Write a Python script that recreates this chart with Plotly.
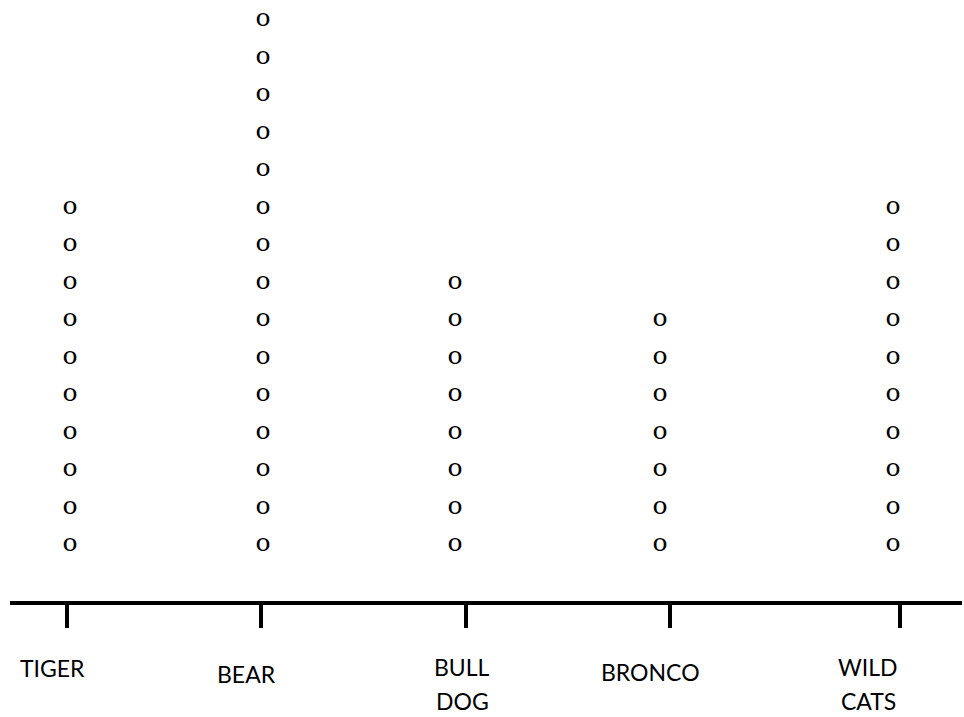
import plotly.graph_objects as go

# ---- data ----
categories = ["TIGER", "BEAR", "BULL DOG", "BRONCO", "WILD CATS"]
counts = [10, 15, 8, 7, 10]
mark_symbol = "o"

# ---- layout constants (hand-drawn spacing of the original) ----
tick_pos = [0.0, 0.97, 1.995, 3.015, 4.165]      # axis tick positions
col_pos = [0.015, 0.98, 1.94, 2.965, 4.13]        # columns of marks
label_xshift = [-15, -15, -4, -20, -32]           # px offsets of labels
label_yshift = [-67, -73, -66, -71, -66]          # px offsets of first line
line_gap = 34

fig = go.Figure()

xs, ys = [], []
for pos, n in zip(col_pos, counts):
    for k in range(1, n + 1):
        xs.append(pos)
        ys.append(k)

fig.add_trace(go.Scatter(
    x=xs, y=ys, mode="text", text=[mark_symbol] * len(xs),
    textposition="middle center",
    textfont=dict(family="DejaVu Serif", size=25, color="black"),
    hoverinfo="skip", showlegend=False,
))

for i, cat in enumerate(categories):
    for j, word in enumerate(cat.split(" ")):
        fig.add_annotation(
            x=tick_pos[i], xref="x", y=0, yref="paper",
            text=word, showarrow=False,
            xanchor="center", yanchor="middle",
            xshift=label_xshift[i], yshift=label_yshift[i] - j * line_gap,
            font=dict(family="Lato", size=23, color="black"),
        )

fig.update_layout(
    width=964, height=717,
    margin=dict(l=10, r=2, t=0, b=116),
    paper_bgcolor="white", plot_bgcolor="white",
    xaxis=dict(range=[-0.285, 4.475], showgrid=False, zeroline=False,
               showline=True, linecolor="black", linewidth=4,
               ticks="outside", ticklen=23, tickwidth=4, tickcolor="black",
               tickvals=tick_pos, showticklabels=False, fixedrange=True),
    yaxis=dict(range=[-0.4933, 15.533], visible=False, fixedrange=True),
)

fig.write_html(
    "out.html",
    config={"displayModeBar": False},
    post_script="document.body.style.margin='0';document.body.style.overflow='hidden';",
)
